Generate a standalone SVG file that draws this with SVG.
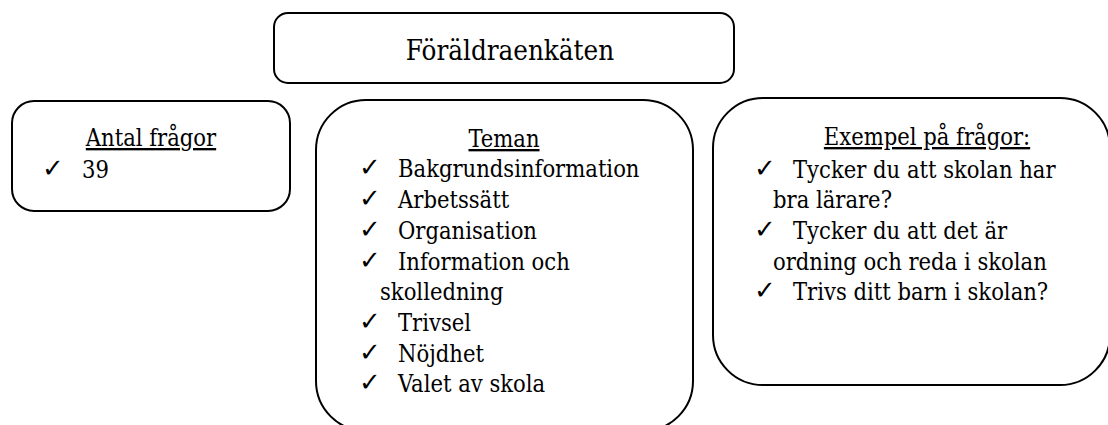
<svg xmlns="http://www.w3.org/2000/svg" width="1108" height="425" viewBox="0 0 1108 425">
  <style>
    .box { fill: #ffffff; stroke: #000000; stroke-width: 2; }
    .t { font-family: 'DejaVu Serif', serif; font-stretch: condensed; font-size: 23.5px; fill: #000000; }
    .title { font-family: 'DejaVu Serif', serif; font-stretch: condensed; font-size: 27.5px; fill: #000000; }
    .head { text-decoration: underline; }
    .ck { font-family: 'DejaVu Sans', sans-serif; font-size: 26px; fill: #000000; }
  </style>
  <rect width="1108" height="425" fill="#ffffff"/>

  <!-- title box -->
  <g id="title">
    <rect class="box" x="274" y="13" width="460" height="70" rx="14" ry="14"/>
    <text class="title" x="510" y="60" text-anchor="middle">Föräldraenkäten</text>
  </g>

  <!-- number of questions -->
  <g id="antal">
    <rect class="box" x="12" y="101" width="278" height="110" rx="22" ry="22"/>
    <text class="t head" x="151" y="146" text-anchor="middle">Antal frågor</text>
    <text class="ck" x="42" y="177">✓</text>
    <text class="t" x="82" y="178">39</text>
  </g>

  <!-- themes -->
  <g id="teman">
    <rect class="box" x="316" y="100" width="377" height="331" rx="50" ry="50"/>
    <text class="t head" x="504" y="147" text-anchor="middle">Teman</text>
    <text class="ck" x="359" y="176">✓</text>
    <text class="t" x="398" y="177">Bakgrundsinformation</text>
    <text class="ck" x="359" y="207">✓</text>
    <text class="t" x="398" y="208">Arbetssätt</text>
    <text class="ck" x="359" y="238">✓</text>
    <text class="t" x="398" y="239">Organisation</text>
    <text class="ck" x="359" y="269">✓</text>
    <text class="t" x="398" y="270">Information och</text>
    <text class="t" x="380" y="300">skolledning</text>
    <text class="ck" x="359" y="330">✓</text>
    <text class="t" x="398" y="331">Trivsel</text>
    <text class="ck" x="359" y="361">✓</text>
    <text class="t" x="398" y="362">Nöjdhet</text>
    <text class="ck" x="359" y="391">✓</text>
    <text class="t" x="398" y="392">Valet av skola</text>
  </g>

  <!-- example questions -->
  <g id="exempel">
    <rect class="box" x="713" y="98" width="397" height="287" rx="50" ry="50"/>
    <text class="t head" x="927" y="145" text-anchor="middle">Exempel på frågor:</text>
    <text class="ck" x="754" y="177">✓</text>
    <text class="t" x="793" y="178">Tycker du att skolan har</text>
    <text class="t" x="773" y="208">bra lärare?</text>
    <text class="ck" x="754" y="238">✓</text>
    <text class="t" x="793" y="239">Tycker du att det är</text>
    <text class="t" x="773" y="270">ordning och reda i skolan</text>
    <text class="ck" x="754" y="299">✓</text>
    <text class="t" x="793" y="300">Trivs ditt barn i skolan?</text>
  </g>

  <g id="connectors"></g>
</svg>
